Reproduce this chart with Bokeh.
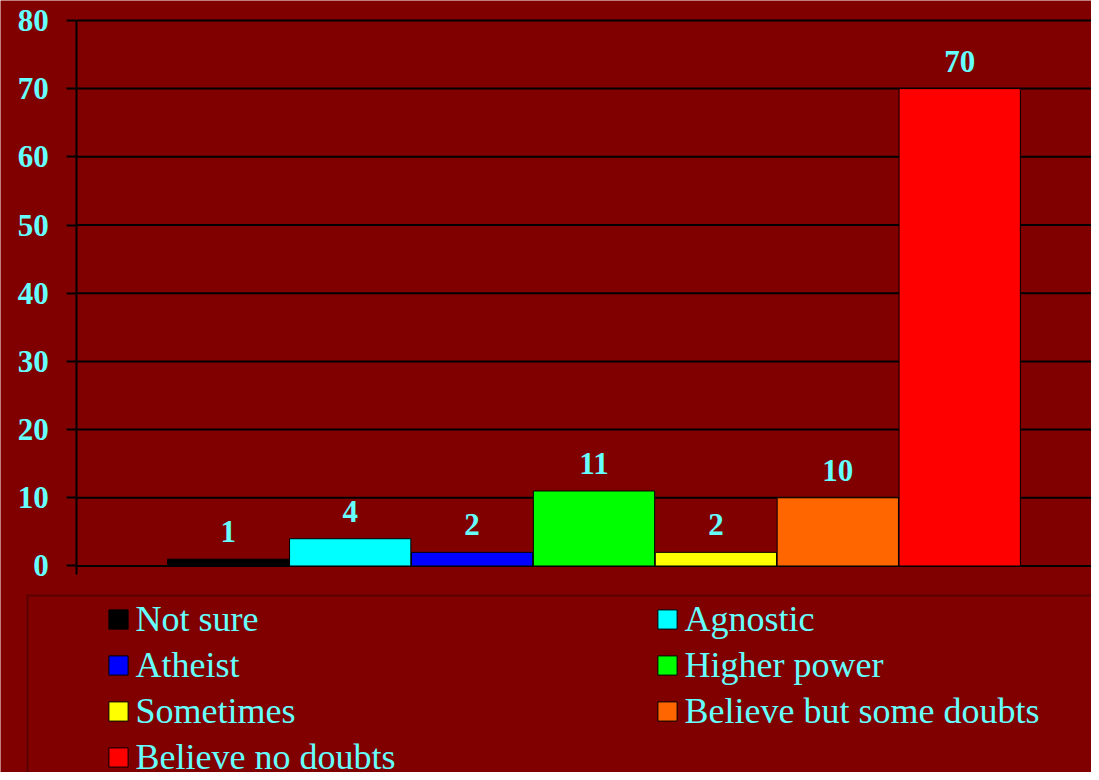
from bokeh.plotting import figure
from bokeh.models import (ColumnDataSource, Range1d, FixedTicker, Legend,
                          LegendItem, BoxAnnotation)
from bokeh.core.properties import value
from bokeh.embed import file_html
from bokeh.resources import INLINE

# ---- data ----
categories = ["Not sure", "Agnostic", "Atheist", "Higher power",
              "Sometimes", "Believe but some doubts", "Believe no doubts"]
values = [1, 4, 2, 11, 2, 10, 70]
colors = ["#000000", "#00FFFF", "#0000FF", "#00FF00",
          "#FFFF00", "#FF6600", "#FF0000"]
y_ticks = [0, 10, 20, 30, 40, 50, 60, 70, 80]

BG = "#800000"
TXT = "#66FFFF"
SERIF = "Liberation Serif"

W, H = 1091, 772
positions = list(range(len(categories)))
src = ColumnDataSource(dict(x=positions, top=values, color=colors,
                            label=[str(v) for v in values]))

# frame covers the whole canvas; the axis sits at a fixed data position
AXIS_X = -1.2428
p = figure(width=W, height=H, output_backend="svg", toolbar_location=None,
           x_range=Range1d(-1.8687, 7.0812), y_range=Range1d(-30.28, 82.92),
           min_border=0, min_border_left=0, min_border_right=0,
           min_border_top=0, min_border_bottom=0, x_axis_location=None)
p.background_fill_color = BG
p.border_fill_color = BG
p.outline_line_color = None
p.grid.visible = False

# horizontal grid lines at the tick values, starting at the axis
p.segment(x0=AXIS_X, x1=8.0, y0=y_ticks, y1=y_ticks,
          line_color="black", line_width=2)

bars = p.vbar(x="x", top="top", bottom=0, width=0.995, fill_color="color",
              line_color="black", line_width=1, source=src)
p.text(x="x", y="top", text="label", source=src, text_align="center",
       text_baseline="bottom", y_offset=-17, text_color=TXT,
       text_font=value(SERIF), text_font_size="31px", text_font_style="bold")

yax = p.yaxis[0]
yax.fixed_location = AXIS_X
yax.bounds = (-1.29, 80)
yax.ticker = FixedTicker(ticks=y_ticks)
yax.axis_line_color = "black"
yax.axis_line_width = 2
yax.major_tick_line_color = "black"
yax.major_tick_line_width = 2
yax.major_tick_out = 10
yax.major_tick_in = 0
yax.minor_tick_line_color = None
yax.major_label_standoff = 18
yax.major_label_text_color = TXT
yax.major_label_text_font = SERIF
yax.major_label_text_font_size = "31px"
yax.major_label_text_font_style = "bold"

# ---- legend box (screen units from the frame's bottom-left, y up) ----
p.add_layout(BoxAnnotation(left=27, right=3000, top=H - 595, bottom=-3000,
                           left_units="screen", right_units="screen",
                           top_units="screen", bottom_units="screen",
                           fill_alpha=0, line_color="black", line_width=2))

# ---- legend entries: two columns, row-major order ----
def make_legend(idx, loc):
    items = [LegendItem(label=categories[i], renderers=[bars], index=i) for i in idx]
    return Legend(items=items, location=loc, orientation="vertical",
                  glyph_width=24, glyph_height=24, label_standoff=6,
                  label_height=40, spacing=4, padding=0, margin=0,
                  border_line_color=None, background_fill_alpha=0,
                  label_text_color=TXT, label_text_font=SERIF,
                  label_text_font_size="36px")

col1 = [i for i in positions if i % 2 == 0]
col2 = [i for i in positions if i % 2 == 1]
p.add_layout(make_legend(col1, (105.6, -6)))
p.add_layout(make_legend(col2, (654.6, 40)))

open("out.html", "w").write(file_html(p, INLINE))
